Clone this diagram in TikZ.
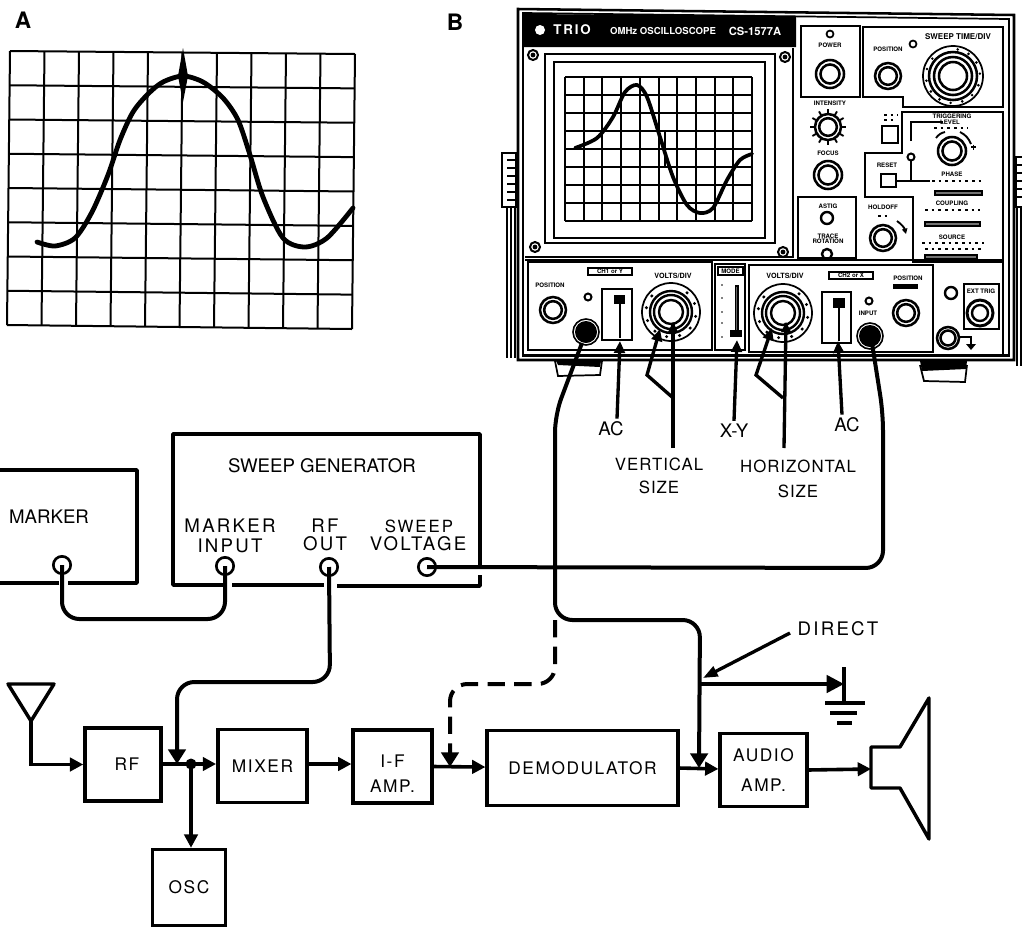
\documentclass[tikz,border=0pt]{standalone}
\usepackage{fontspec}
\setmainfont{TeX Gyre Heros}
\newfontfamily\wideface[LetterSpace=12]{TeX Gyre Heros}
\newfontfamily\sizeface[LetterSpace=6]{TeX Gyre Heros}
\newfontfamily\boxface[LetterSpace=9]{TeX Gyre Heros}
\newfontfamily\headface[LetterSpace=14]{TeX Gyre Heros}
\usetikzlibrary{arrows.meta, calc, positioning}
\tikzset{
  lbl/.style       = {inner sep=0pt, font=\fontsize{14}{16}\selectfont},
  wlbl/.style      = {inner sep=0pt, font=\wideface\fontsize{14}{16}\selectfont},
  slbl/.style      = {inner sep=0pt, font=\sizeface\fontsize{12.6}{14}\selectfont},
  panellbl/.style  = {inner sep=0pt, font=\bfseries\fontsize{4.6}{5}\selectfont},
  keylbl/.style    = {inner sep=0pt, font=\bfseries\fontsize{6}{7}\selectfont},
  letterlbl/.style = {inner sep=0pt, font=\bfseries\fontsize{17}{18}\selectfont},
  blockbox/.style  = {draw, line width=2.6pt, inner sep=0pt, align=center,
                      font=\boxface\fontsize{13}{21}\selectfont},
  outline/.style   = {line width=2.6pt, line join=round},
  jack/.style      = {draw, circle, line width=2pt, inner sep=0pt, minimum size=13pt},
  sig/.style       = {line width=2.7pt, -{Triangle[length=10pt,width=10pt]}},
  cable/.style     = {line width=3pt, rounded corners=13pt},
  cabletip/.style  = {-{Triangle[length=11pt,width=13pt]}},
  pointer/.style   = {line width=2.5pt, -{Triangle[length=9pt,width=8pt]}},
  gridline/.style  = {line width=1.5pt},
  thinline/.style  = {line width=1.3pt},
  trace/.style     = {line width=3.6pt, line cap=round},
  specks/.style    = {line width=.8pt, dash pattern=on 2pt off 3pt},
}
% x y are pixels of the page
\newcommand{\knob}[2]{%
  \draw[line width=1.9pt] (#1) circle (#2);
  \draw[line width=1.9pt] (#1) circle ({#2*.68});}
\newcommand{\dial}[1]{%
  \draw[thinline] (#1) circle (29);
  \foreach \a in {-50,-20,...,230} \fill ($(#1)+(\a:25)$) circle (1.7);
  \foreach \r in {21,17,12} \draw[line width=1.8pt] (#1) circle (\r);}
\newcommand{\bnc}[1]{%
  \draw[line width=1.2pt] (#1) circle (13);
  \fill (#1) circle (11);}

\begin{document}
\begin{tikzpicture}[x=0.75pt,y=-0.75pt]
  \useasboundingbox (0,0) rectangle (1022,929);

  % A
  \node[letterlbl] (lettera) at (23,20) {A};
  \coordinate (ga) at (10,51);
  \coordinate (gb) at (355,54);
  \coordinate (gc) at (7,325);
  \coordinate (gd) at (352,329);
  \foreach \i in {0,...,10}
    \draw[gridline] ($(ga)!\i/10!(gb)$) -- ($(gc)!\i/10!(gd)$);
  \foreach \i in {0,...,8}
    \draw[gridline] ($(ga)!\i/8!(gc)$) -- ($(gb)!\i/8!(gd)$);
  \draw[trace] plot[smooth] coordinates {(37,242) (55,246) (75,238) (92,212) (108,175)
    (120,140) (133,112) (148,94) (163,82) (183,76) (203,82) (223,98) (238,120)
    (250,155) (263,197) (283,238) (305,247) (327,238) (353,208)};
  \fill (183,48) -- (188,76) -- (183,102) -- (178,76) -- cycle;

  % B
  \node[letterlbl] (letterb) at (455,22) {B};
  \draw[line width=1.9pt] (518,9) -- (1014,15) -- (1014,360) -- (518,360) -- cycle;
  \draw[thinline] (523,13) -- (1009,19) -- (1009,356) -- (523,356) -- cycle;
  \fill (523,14) -- (796,16) -- (796,47) -- (523,47) -- cycle;
  \fill[white] (540,30) circle (5);
  \node[inner sep=0pt, white, font=\headface\bfseries\fontsize{10}{11}\selectfont] (brand) at (572,30) {TRIO};
  \node[inner sep=0pt, white, font=\bfseries\fontsize{7.2}{8}\selectfont] (scopename) at (663,31) {OMHz OSCILLOSCOPE};
  \node[inner sep=0pt, white, font=\bfseries\fontsize{8.4}{9}\selectfont] (modelname) at (755,31) {CS-1577A};
  % handles and legs
  \draw[line width=1.2pt, fill=white] (502,153) rectangle (516,207);
  \foreach \y in {160,168,...,200} \draw[thinline] (507,\y) -- (516,\y);
  \foreach \x in {507,511,515} \draw[thinline] (\x,207) -- (\x,358);
  \draw[line width=1.2pt, fill=white] (1022,157) -- (1016,157) -- (1016,207) -- (1022,207);
  \foreach \y in {165,173,...,200} \draw[thinline] (1016,\y) -- (1022,\y);
  \foreach \x in {1017,1021} \draw[thinline] (\x,207) -- (\x,366);
  % feet
  \draw[thinline] (555,361) -- (558,376) -- (600,375) -- (602,361);
  \fill (556,361) -- (601,361) -- (600,367) -- (558,365) -- cycle;
  \draw[thinline] (920,365) -- (924,381) -- (965,382) -- (967,365);
  \fill (920,361) -- (967,361) -- (966,369) -- (922,371) -- cycle;

  % screen
  \draw[thinline] (525,257) -- (793,257) -- (793,48);
  \draw[line width=1.6pt] (545,54) rectangle (775,243);
  \draw[line width=1.6pt] (554,62) rectangle (765,238);
  \foreach \x in {0,...,10} \draw[gridline] ({565+18.7*\x},77) -- ({565+18.7*\x},221);
  \foreach \y in {0,...,8} \draw[gridline] (565,{77+18*\y}) -- (752,{77+18*\y});
  \draw[trace, line width=2.8pt] plot[smooth] coordinates {(575,148) (597,138) (613,117) (625,92)
    (637,85) (647,97) (660,137) (673,177) (687,205) (700,213) (713,208)
    (727,180) (740,160) (752,154)};
  \draw[line width=2.2pt] (665,130) -- (665,168);
  \foreach \p in {(533,55),(785,57),(535,247),(783,252)} {
    \draw[line width=1.5pt] \p circle (5);
    \fill \p circle (2.4);}

  % upper right panels
  \draw[thinline] (801,26) rectangle (860,97);
  \draw[thinline] (863,27) -- (1003,27) -- (1003,107) -- (903,107) -- (903,97) -- (863,97) -- cycle;
  \draw[thinline] (902,112) -- (1003,112) -- (1003,262) -- (913,262) -- (913,197)
    -- (865,197) -- (865,153) -- (902,153) -- cycle;
  \draw[thinline] (798,197) rectangle (856,258);
  \node[panellbl] (powerlbl) at (830,45) {POWER};
  \draw[thinline] (830,34) circle (3.5);
  \knob{830,74}{14}
  \node[panellbl] (posalbl) at (888,49) {POSITION};
  \draw[thinline] (913,44) circle (3.5);
  \knob{888,76}{13}
  \node[keylbl] (sweeplbl) at (958,37) {SWEEP TIME/DIV};
  \draw[thinline] (953,76) circle (30);
  \foreach \a in {-80,-55,...,240} \fill ($(953,76)+(\a:27)$) circle (1.4);
  \foreach \r in {24,19,14} \draw[line width=1.9pt] (953,76) circle (\r);
  \node[panellbl] (intenslbl) at (830,103) {INTENSITY};
  \foreach \a in {0,30,...,330} \draw[line width=1.4pt] ($(828,127)+(\a:13)$) -- ($(828,127)+(\a:18)$);
  \knob{828,127}{13}
  \node[panellbl] (focuslbl) at (828,153) {FOCUS};
  \knob{828,175}{14}
  \node[panellbl] (astiglbl) at (828,206) {ASTIG};
  \draw[line width=1.8pt] (827,218) circle (6);
  \node[panellbl] (tracelbl) at (828,236) {TRACE};
  \node[panellbl] (rotlbl) at (828,241.5) {ROTATION};
  \draw[line width=1.8pt] (827,254) circle (5);
  \draw[line width=1.6pt] (882,126) rectangle (898,143);
  \draw[specks] (884,115) -- (898,115);
  \draw[specks] (884,120) -- (896,120);
  \node[panellbl] (trigglbl) at (952,116) {TRIGGERING};
  \draw[thinline] (911,141) -- (911,122) -- (943,122);
  \node[panellbl] (levellbl) at (950,122) {LEVEL};
  \draw[specks] (934,128) -- (968,128);
  \knob{952,151}{14}
  \draw[line width=1.4pt] (936,138) to[bend left=20] (945,132);
  \draw[line width=1.4pt] (960,132) to[bend left=20] (971,144);
  \draw[line width=.9pt] (971,147) -- (976,147) (973.5,144.5) -- (973.5,149.5);
  \draw[line width=1.5pt] (911,157) circle (3.5);
  \draw[thinline] (911,161) -- (911,174);
  \node[panellbl] (resetlbl) at (887,165) {RESET};
  \draw[line width=1.6pt] (881,174) rectangle (896,187);
  \draw[thinline] (896,181) -- (930,181);
  \draw[thinline] (911,174) -- (911,181);
  \node[panellbl] (phaselbl) at (952,174) {PHASE};
  \draw[specks] (932,181) -- (982,181);
  \draw[line width=1pt, fill=black!55] (935,191) rectangle (982,195);
  \node[panellbl] (couplbl) at (952,203) {COUPLING};
  \draw[specks] (925,210) -- (980,210);
  \draw[line width=1pt, fill=black!55] (925,222) rectangle (980,226);
  \node[panellbl] (sourcelbl) at (952,237) {SOURCE};
  \draw[specks] (922,243) -- (984,243);
  \draw[specks] (925,249) -- (982,249);
  \draw[line width=1pt, fill=black!55] (925,255) rectangle (977,259);
  \node[panellbl] (holdlbl) at (883,207) {HOLDOFF};
  \draw[specks] (878,216) -- (889,216);
  \knob{883,238}{13}
  \draw[line width=1.4pt, -{Triangle[length=4pt,width=4pt]}] (897,221) to[bend left=20] (906,234);

  % lower panels
  \draw[thinline] (525,260) -- (1003,260) -- (1003,355);
  \draw[thinline] (528,262) rectangle (712,350);
  \draw[thinline] (715,264) rectangle (745,350);
  \draw[thinline] (749,265) rectangle (933,352);
  \draw[thinline] (523,355) -- (1009,355);
  \draw[thinline] (588,268) rectangle (632,275);
  \node[panellbl] (chonelbl) at (610,271.5) {CH1 or Y};
  \node[keylbl, font=\bfseries\fontsize{5.4}{6}\selectfont] (voltsalbl) at (673,276) {VOLTS/DIV};
  \node[panellbl] (posblbl) at (550,285) {POSITION};
  \knob{553,310}{13}
  \draw[line width=1.5pt] (588,297) circle (3.5);
  \bnc{586,332}
  \draw[thinline] (602,289) rectangle (632,340);
  \draw[line width=2.2pt] (620,300) -- (620,338);
  \fill (614,295) rectangle (625,304);
  \dial{671,312}
  \draw[thinline] (718,267) rectangle (743,275);
  \node[panellbl] (modelbl) at (730.5,271) {MODE};
  \draw[line width=.9pt, fill=black!60] (735.5,286) rectangle (738,333);
  \fill (730,330) rectangle (742,337);
  \foreach \y in {285,298,312,323,337} \fill (722,\y) circle (.9);
  \node[keylbl, font=\bfseries\fontsize{5.4}{6}\selectfont] (voltsblbl) at (785,276) {VOLTS/DIV};
  \dial{783,313}
  \draw[thinline] (829,272) rectangle (873,279);
  \node[panellbl] (chtwolbl) at (851,275.5) {CH2 or X};
  \draw[thinline] (822,292) rectangle (851,343);
  \draw[line width=2.2pt] (839,304) -- (839,341);
  \fill (833,298) rectangle (845,308);
  \draw[line width=1.5pt] (869,301) circle (3.5);
  \node[panellbl] (inputlbl) at (868,313) {INPUT};
  \bnc{870,336}
  \node[panellbl] (posclbl) at (908,278) {POSITION};
  \fill (893,284) rectangle (918,289);
  \knob{906,313}{13}
  \draw[line width=1.8pt] (951,293) circle (6);
  \draw[thinline] (964,284) rectangle (999,329);
  \node[panellbl] (extlbl) at (981,291) {EXT TRIG};
  \draw[line width=2.2pt] (980,313) circle (13);
  \draw[line width=1.8pt] (980,313) circle (8);
  \knob{948,338}{11}
  \draw[line width=1.5pt] (959,337) -- (971,337) -- (971,344);
  \fill (966,344) -- (976,344) -- (971,350) -- cycle;

  % front panel call-outs
  \coordinate (acone) at (620,341);
  \coordinate (actwo) at (838,341);
  \coordinate (xytip) at (737,340);
  \node[lbl] (acleft) at (611,429) {AC};
  \node[lbl] (xylbl) at (734,431) {X-Y};
  \node[lbl] (acright) at (847,425) {AC};
  \node[slbl] (vertlbl) at (659,464) {VERTICAL};
  \node[slbl] (vertsize) at (659,487) {SIZE};
  \node[slbl] (horilbl) at (798,466) {HORIZONTAL};
  \node[slbl] (horisize) at (798,491) {SIZE};
  \draw[pointer] (acleft.north -| 617,0) ++(0,-3) -- (acone);
  \draw[pointer] (xylbl.north) ++(0,-3) -- (xytip);
  \draw[pointer] (acright.north -| 842,0) ++(0,-3) -- (actwo);
  \draw[line width=2.5pt] (673,448) -- (673,323);
  \draw[line width=2.5pt] (784,448) -- (786,323);
  \draw[pointer] (672,397) -- (647,375) -- (660,329);
  \draw[pointer] (783,398) -- (756,375) -- (772,328);
  \fill (673,322) -- (668,332) -- (678,332) -- cycle;
  \fill (786,322) -- (781,332) -- (791,332) -- cycle;

  % marker and sweep generator
  \draw[outline] (0,470) -- (137,470) -- (137,583) -- (68,583);
  \draw[outline] (59,583) -- (0,583);
  \draw[outline] (225,585) -- (173,585) -- (173,434) -- (480,434) -- (480,565);
  \draw[outline] (232,585) -- (324,585);
  \draw[outline] (337,586) -- (480,586) -- (480,575);
  \node[lbl] (markername) at (49,517) {MARKER};
  \node[lbl] (sweepname) at (322,466) {SWEEP GENERATOR};
  \node[wlbl] (markerin) at (230,526) {MARKER};
  \node[wlbl] (markerin2) at (230,546) {INPUT};
  \node[wlbl] (rflbl) at (325,526) {RF};
  \node[wlbl] (outlbl) at (325,544) {OUT};
  \node[wlbl, font=\wideface\fontsize{12.6}{14}\selectfont] (sweeplbl2) at (419,526) {SWEEP};
  \node[wlbl] (voltlbl) at (418,544) {VOLTAGE};
  \node[jack] (jackmarker) at (62,565) {};
  \node[jack] (jackinput) at (225,566) {};
  \node[jack] (jackrf) at (329,567) {};
  \node[jack] (jacksweep) at (427,567) {};

  % receiver
  \node[blockbox, minimum width=57pt, minimum height=55pt] (rf) at (123,764.5) {\hspace{6pt}RF};
  \node[blockbox, minimum width=67pt, minimum height=55pt] (mixer) at (262.5,766) {MIXER};
  \node[blockbox, minimum width=59pt, minimum height=55pt] (ifamp) at (392.5,766.5) {\rule{0pt}{20pt}I-F\\[-2pt]AMP.};
  \node[blockbox, minimum width=143pt, minimum height=56pt] (demod) at (582.5,768) {DEMODULATOR};
  \node[blockbox, minimum width=65pt, minimum height=55pt] (audio) at (763.5,770) {AUDIO\\[2pt]AMP.};
  \node[blockbox, minimum width=55pt, minimum height=57pt] (osc) at (189,887.5) {OSC};

  \coordinate (ant) at (31,721);
  \coordinate (tap) at (191,764);
  \coordinate (spk) at (871,769);
  \coordinate (ifout) at (450,767);
  \coordinate (demout) at (699,768);
  \coordinate (rfin) at (177,764);
  \coordinate (gndtop) at (844,684);

  \draw[outline] (8,684) -- (54,684) -- (ant) -- cycle;
  \draw[sig] (ant) |- (rf.west);
  \draw[line width=2.7pt] (rf.east |- tap) -- (tap);
  \draw[sig] (tap) -- (mixer.west |- tap);
  \draw[sig] (tap) -- (tap |- osc.north);
  \fill (tap) circle (5.5);
  \draw[sig] (mixer.east |- tap) -- (ifamp.west |- tap);
  \draw[sig] (ifamp) ++(40,0) -- (demod);
  \draw[sig] (demod) ++(96,0) -- (audio);
  \draw[sig] (audio) ++(44,0) -- (spk);
  \draw[outline] (spk |- 0,747) -- (900,747) -- (929,698) -- (929,839) -- (900,788)
    -- (spk |- 0,788) -- cycle;

  % cables
  \draw[cable] (jackmarker.center) -- (62,619) -- (225,619) -- (jackinput.center);
  \draw[cable, cabletip] (jackrf.center) -- (330,682) -- (177,682) -- (rfin);
  \draw[cable] (jacksweep.center) -- (883,568) -- (883,413) -- (872,343);
  \draw[cable, cabletip] (582,343) -- (555,415) -- (555,620) -- (700,620) -- (demout);
  \draw[line width=3pt, dash pattern=on 13pt off 7pt, rounded corners=13pt, cabletip]
    (555,620) -- (555,684) -- (450,684) -- (ifout);

  % direct
  \node[wlbl] (directlbl) at (838,629) {DIRECT};
  \coordinate (directtip) at (703,678);
  \draw[pointer, -{Triangle[length=11pt,width=8pt]}] (790,633) -- (directtip);
  \draw[sig, -{Triangle[length=13pt,width=13pt]}] (700,684) -- (gndtop);
  \draw[line width=2.6pt] (844,667) -- (844,703);
  \draw[line width=2.8pt] (825,703) -- (865,703);
  \draw[line width=2.8pt] (830,713) -- (857,713);
  \draw[line width=2.8pt] (837,723) -- (852,723);
\end{tikzpicture}
\end{document}
